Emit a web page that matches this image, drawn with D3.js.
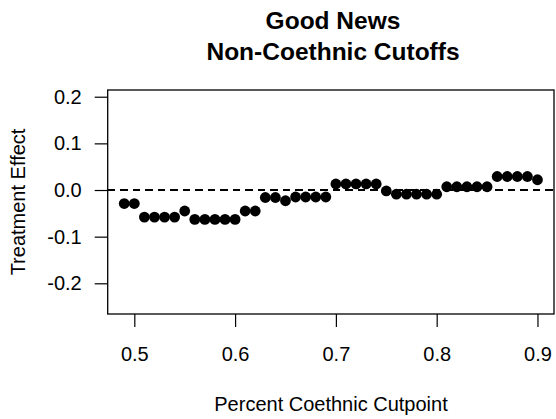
<!DOCTYPE html>
<html>
<head>
<meta charset="utf-8">
<script src="https://cdn.jsdelivr.net/npm/d3@7"></script>
<style>
  body { margin: 0; background: #fff; }
  text { font-family: "Liberation Sans", Arial, sans-serif; }
</style>
</head>
<body>
<svg width="556" height="419"></svg>
<script>
const cutpoints = [0.49, 0.50, 0.51, 0.52, 0.53, 0.54, 0.55, 0.56, 0.57, 0.58, 0.59, 0.60,
  0.61, 0.62, 0.63, 0.64, 0.65, 0.66, 0.67, 0.68, 0.69, 0.70, 0.71, 0.72, 0.73, 0.74,
  0.75, 0.76, 0.77, 0.78, 0.79, 0.80, 0.81, 0.82, 0.83, 0.84, 0.85, 0.86, 0.87, 0.88, 0.89, 0.90];
const effects = [-0.029, -0.029, -0.058, -0.058, -0.058, -0.058, -0.045, -0.063, -0.063, -0.063, -0.063, -0.063,
  -0.045, -0.045, -0.016, -0.016, -0.023, -0.015, -0.015, -0.015, -0.015, 0.013, 0.013, 0.013, 0.013, 0.013,
  -0.002, -0.009, -0.009, -0.009, -0.009, -0.009, 0.007, 0.007, 0.007, 0.007, 0.007, 0.029, 0.029, 0.029, 0.029, 0.022];
const xTicks = [0.5, 0.6, 0.7, 0.8, 0.9];
const yTicks = [-0.2, -0.1, 0.0, 0.1, 0.2];

const svg = d3.select("svg");
const plotL = 107.7, plotR = 554, plotT = 90, plotB = 314;

// R style: 4% padding around xlim / ylim
const x = d3.scaleLinear().domain([0.4736, 0.9164]).range([plotL, plotR]);
const y = d3.scaleLinear().domain([-0.2658, 0.2144]).range([plotB, plotT]);

// box
svg.append("rect")
  .attr("x", plotL).attr("y", plotT)
  .attr("width", plotR - plotL).attr("height", plotB - plotT)
  .attr("fill", "none").attr("stroke", "#000").attr("stroke-width", 1.3);

// zero line
svg.append("line")
  .attr("x1", plotL).attr("x2", plotR)
  .attr("y1", y(0)).attr("y2", y(0))
  .attr("stroke", "#000").attr("stroke-width", 1.3)
  .attr("shape-rendering", "crispEdges")
  .attr("stroke-dasharray", "7.5,5");

// axes
const xAxis = svg.append("g")
  .attr("transform", `translate(0,${plotB})`)
  .call(d3.axisBottom(x).tickValues(xTicks).tickSize(13).tickPadding(19.5).tickFormat(d3.format(".1f")));
const yAxis = svg.append("g")
  .attr("transform", `translate(${plotL},0)`)
  .call(d3.axisLeft(y).tickValues(yTicks).tickSize(13).tickPadding(13).tickFormat(d3.format(".1f")));

[xAxis, yAxis].forEach(g => {
  g.select(".domain").remove();
  g.selectAll("line").attr("stroke", "#000").attr("stroke-width", 1.2);
  g.selectAll("text").attr("fill", "#000").style("font-size", "20px")
    .style("font-family", "'Liberation Sans', Arial, sans-serif");
});
yAxis.selectAll("text").text(d => d3.format(".1f")(d).replace("−", "-"));

// points
svg.append("g")
  .selectAll("circle")
  .data(cutpoints)
  .join("circle")
    .attr("cx", d => x(d))
    .attr("cy", (d, i) => y(effects[i]))
    .attr("r", 5.4)
    .attr("fill", "#000");

// titles
svg.append("text").attr("x", 333).attr("y", 28.5)
  .attr("text-anchor", "middle").style("font-size", "24.5px").style("font-weight", "bold")
  .text("Good News");
svg.append("text").attr("x", 333).attr("y", 60)
  .attr("text-anchor", "middle").style("font-size", "24.5px").style("font-weight", "bold")
  .text("Non-Coethnic Cutoffs");

// axis labels
svg.append("text").attr("x", 331).attr("y", 411)
  .attr("text-anchor", "middle").style("font-size", "20px")
  .text("Percent Coethnic Cutpoint");
svg.append("text")
  .attr("transform", `translate(25,${(plotT + plotB) / 2}) rotate(-90)`)
  .attr("text-anchor", "middle").style("font-size", "20px")
  .text("Treatment Effect");
</script>
</body>
</html>
